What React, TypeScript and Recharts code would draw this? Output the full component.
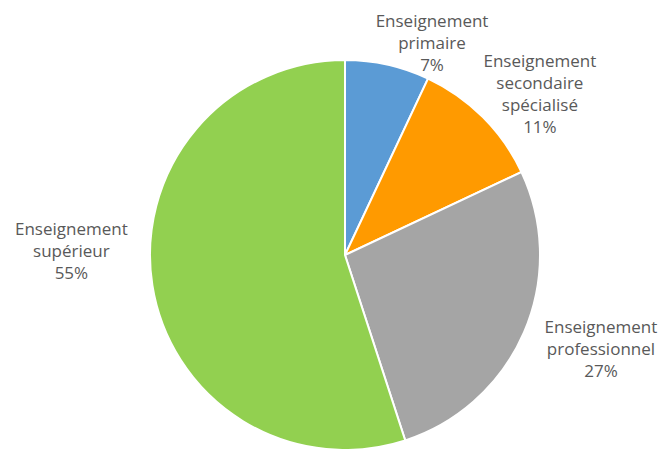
import { PieChart, Pie, Cell } from "recharts";

const categories = [
  "Enseignement primaire",
  "Enseignement secondaire spécialisé",
  "Enseignement professionnel",
  "Enseignement supérieur",
];
const shares = [7, 11, 27, 55];
const colors = ["#5b9bd5", "#ff9a00", "#a5a5a5", "#92d050"];
// where each label block sits, relative to the slice's outer edge at mid angle
const labelOffsets = [
  [44.5, -23],
  [57, -24.5],
  [77, 15.5],
  [-81, -36],
];

const rows = categories.map((name, i) => ({ name, value: shares[i] }));

const RAD = Math.PI / 180;
const LINE = 22;

function renderLabel(props: any) {
  const { cx, cy, midAngle, outerRadius, index, name, value } = props;
  const x0 = cx + outerRadius * Math.cos(-midAngle * RAD);
  const y0 = cy + outerRadius * Math.sin(-midAngle * RAD);
  const [dx, dy] = labelOffsets[index];
  const lines = [...String(name).split(" "), `${value}%`];
  const top = y0 + dy - ((lines.length - 1) * LINE) / 2;
  return (
    <text
      x={x0 + dx}
      y={top}
      textAnchor="middle"
      dominantBaseline="central"
      fill="#595959"
      fontSize={17}
      fontFamily="'Open Sans', sans-serif"
    >
      {lines.map((l, i) => (
        <tspan key={i} x={x0 + dx} y={top + i * LINE}>
          {l}
        </tspan>
      ))}
    </text>
  );
}

export default function App() {
  return (
    <div style={{ position: "fixed", left: 0, top: 0, width: 666, height: 449, background: "#fff" }}>
      <PieChart width={666} height={449} margin={{ top: 0, right: 0, bottom: 0, left: 0 }}>
        <Pie
          data={rows}
          dataKey="value"
          nameKey="name"
          cx={345}
          cy={255}
          outerRadius={195}
          startAngle={90}
          endAngle={-270}
          stroke="#fff"
          strokeWidth={2}
          label={renderLabel}
          labelLine={false}
          isAnimationActive={false}
        >
          {rows.map((r, i) => (
            <Cell key={r.name} fill={colors[i]} />
          ))}
        </Pie>
      </PieChart>
    </div>
  );
}
